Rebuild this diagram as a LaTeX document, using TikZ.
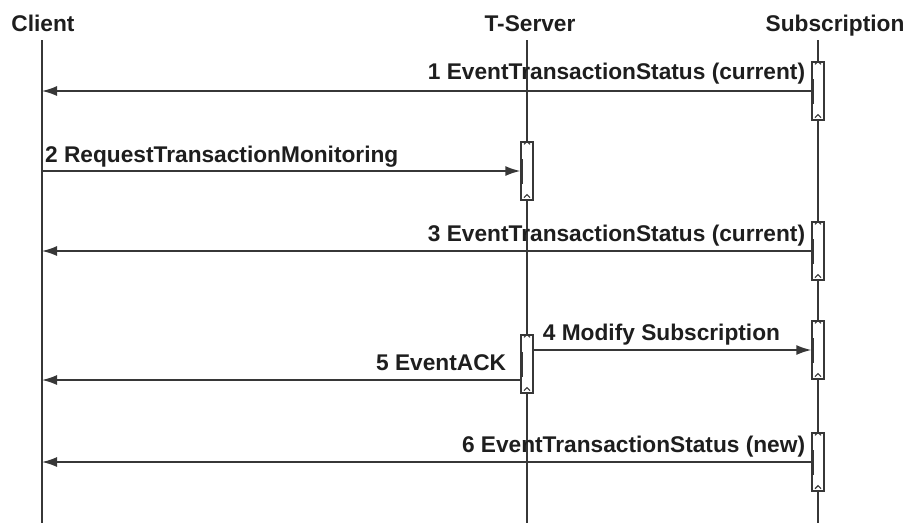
\documentclass[tikz,border=0pt]{standalone}
\usepackage{fontspec}
\setmainfont{Liberation Sans}
\usetikzlibrary{arrows.meta}

\definecolor{lineclr}{RGB}{55,55,55}
\definecolor{textclr}{RGB}{30,30,30}

\tikzset{
  actor/.style={font=\fontsize{22.7pt}{27pt}\selectfont\bfseries, text=textclr, anchor=base, inner sep=0pt},
  msglbl/.style={font=\fontsize{22.7pt}{27pt}\selectfont\bfseries, text=textclr, inner sep=0pt},
  lifeline/.style={draw=lineclr, line width=1.5pt},
  actbox/.style={draw=lineclr, fill=white, line width=1.4pt, minimum width=12pt, minimum height=58pt, inner sep=0pt},
  msg/.style={draw=lineclr, line width=1.5pt, -{Latex[length=15pt,width=10pt]}}
}

\begin{document}
\begin{tikzpicture}[x=1pt,y=-1pt]
\useasboundingbox (0,0) rectangle (907,523);

% participants
\node[actor] (client) at (43,31) {Client};
\node[actor] (tserver) at (530,31) {T-Server};
\node[actor] (subscr) at (835,31) {Subscription};

\coordinate (cl) at (42,40);
\coordinate (ts) at (527,40);
\coordinate (sb) at (818,40);

\foreach \c in {cl,ts,sb}
{
	\draw[lifeline] (\c) -- (\c |- 0,523);
}

% activations
\foreach \n/\c/\y in {sa/sb/91, tb/ts/171, sc/sb/251, sd/sb/350, te/ts/364, sf/sb/462}
{
	\node[actbox] (\n) at (\c |- 0,\y) {};
	\draw[draw=lineclr, line width=1.1pt] ([xshift=-3pt,yshift=-3pt]\n.north) -- (\n.north) -- ([xshift=3pt,yshift=-3pt]\n.north);
	\draw[draw=lineclr, line width=1.1pt] ([xshift=-3pt,yshift=3pt]\n.south) -- ([yshift=6pt]\n.south) -- ([xshift=3pt,yshift=3pt]\n.south);
	\draw[draw=lineclr, line width=1.1pt] ([xshift=2.5pt,yshift=-18pt]\n.north west) -- ([xshift=2.5pt,yshift=-43pt]\n.north west);
}

% messages
\draw[msg] (sa.west) -- (sa.west -| cl);
\node[msglbl, anchor=base east] (m1) at ([xshift=-6pt,yshift=12pt]sa.west) {1 EventTransactionStatus (current)};

\draw[msg] (tb.west -| cl) -- (tb.west);
\node[msglbl, anchor=base west] (m2) at ([xshift=3pt,yshift=9pt]tb.west -| cl) {2 RequestTransactionMonitoring};

\draw[msg] (sc.west) -- (sc.west -| cl);
\node[msglbl, anchor=base east] (m3) at ([xshift=-6pt,yshift=10pt]sc.west) {3 EventTransactionStatus (current)};

\draw[msg] (sd.west -| te.east) -- (sd.west);
\node[msglbl, anchor=base west] (m4) at ([xshift=9pt,yshift=10pt]sd.west -| te.east) {4 Modify Subscription};

\draw[msg] ([yshift=-16pt]te.west) -- ([yshift=-16pt]te.west -| cl);
\node[msglbl, anchor=base east] (m5) at ([xshift=-14pt,yshift=-6pt]te.west) {5 EventACK};

\draw[msg] (sf.west) -- (sf.west -| cl);
\node[msglbl, anchor=base east] (m6) at ([xshift=-6pt,yshift=10pt]sf.west) {6 EventTransactionStatus (new)};
\end{tikzpicture}
\end{document}
